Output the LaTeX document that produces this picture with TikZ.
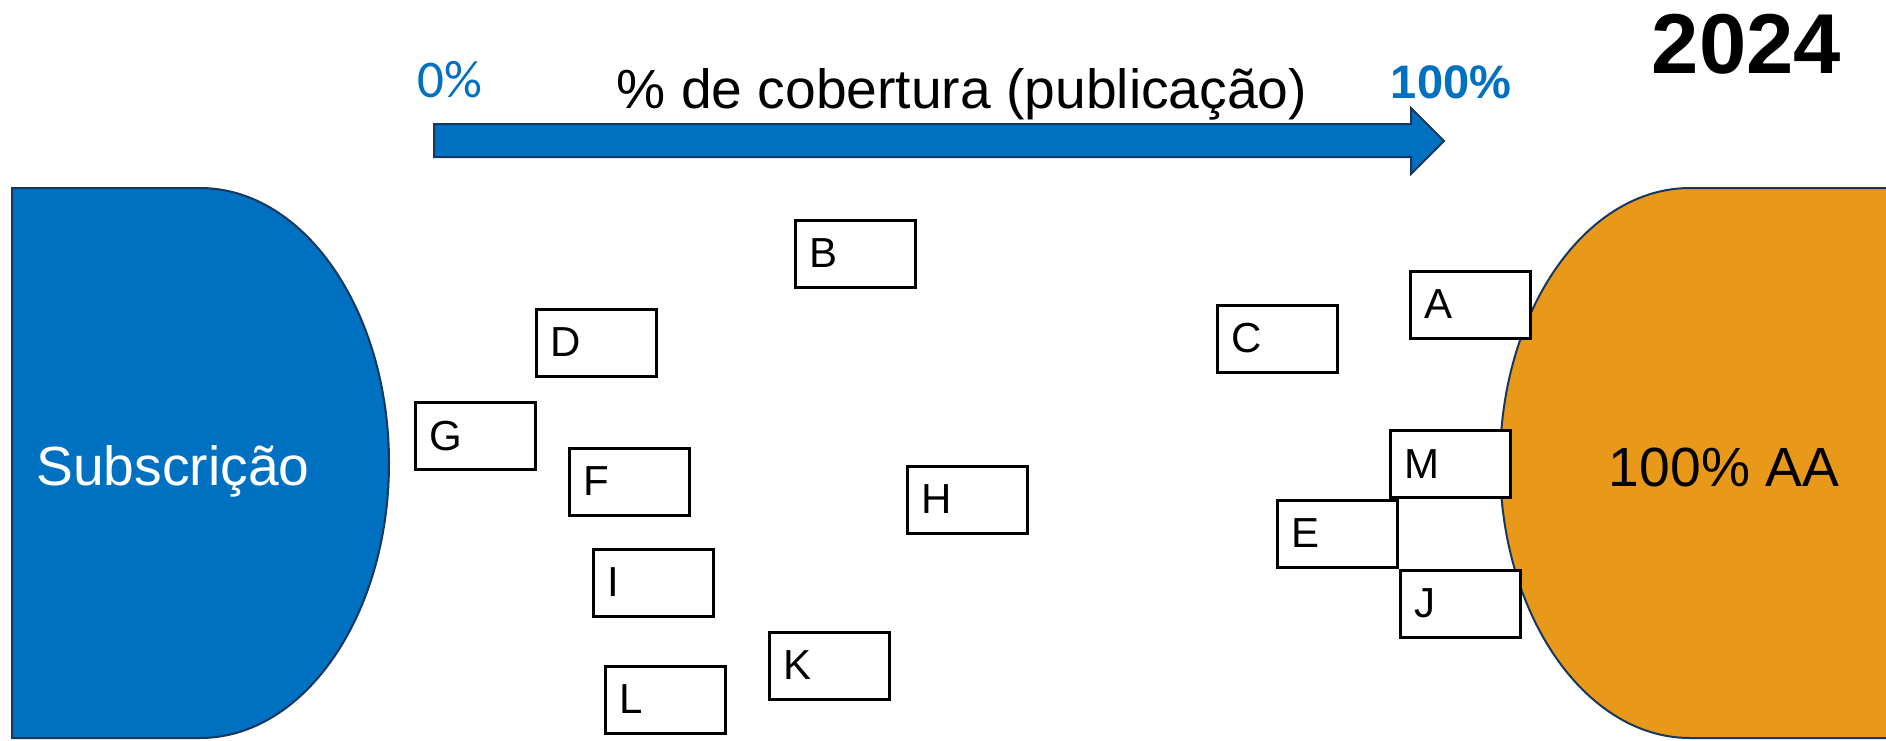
\documentclass[tikz,border=0pt]{standalone}
\usepackage{fontspec}
\setmainfont{Liberation Sans}
\newfontfamily\carl{Carlito}
\definecolor{pblue}{HTML}{0070C0}
\definecolor{navy}{HTML}{17375E}
\definecolor{porange}{HTML}{E8991A}
\tikzset{
  lbox/.style={draw=black, fill=white, line width=1.5pt, minimum width=60pt, minimum height=33.5pt, inner sep=0pt},
  ltxt/.style={anchor=west, inner sep=0pt, font=\fontsize{21}{25}\selectfont},
  shapeline/.style={draw=navy, line width=1pt},
  bigtxt/.style={anchor=base, inner sep=0pt, font=\fontsize{27.6}{32}\selectfont},
}
\begin{document}
\begin{tikzpicture}[x=0.5pt,y=-0.5pt]
\useasboundingbox (0,0) rectangle (1886,740);
\fill[white] (0,0) rectangle (1886,740);
% left blue shape
\path[fill=pblue, shapeline] (12,188) -- (200,188) .. controls (304.4,188) and (389,311.1) .. (389,463) .. controls (389,614.9) and (304.4,738) .. (200,738) -- (12,738) -- cycle;
% right orange shape
\fill[porange] (1890,188) -- (1690,188) .. controls (1585.6,188) and (1500,311.1) .. (1500,463) .. controls (1500,614.9) and (1585.6,738) .. (1690,738) -- (1890,738) -- cycle;
\draw[shapeline] (1890,188) -- (1690,188) .. controls (1585.6,188) and (1500,311.1) .. (1500,463) .. controls (1500,614.9) and (1585.6,738) .. (1690,738) -- (1890,738);
% arrow
\path[fill=pblue, shapeline] (434,124) -- (1411,124) -- (1411,108) -- (1444,141) -- (1411,174) -- (1411,157) -- (434,157) -- cycle;
% texts
\node[bigtxt, text=white] (subs) at (173,485) {Subscrição};
\node[bigtxt] (aa) at (1724,486) {100\% AA};
\node[bigtxt] (cob) at (962,108) {\% de cobertura (publicação)};
\node[anchor=base, inner sep=0pt, text=pblue, font=\carl\fontsize{26.5}{30}\selectfont] (zero) at (450,97) {0\%};
\node[anchor=base, inner sep=0pt, text=pblue, font=\bfseries\fontsize{23.5}{28}\selectfont] (hund) at (1451,98) {100\%};
\node[anchor=base, inner sep=0pt, font=\bfseries\fontsize{42.5}{48}\selectfont] (year) at (1746.5,73) {2024};
% boxes
\foreach \n/\x/\y in {B/855/253.5, D/596.5/342.5, G/475.5/436, F/629.5/481.5, I/653.5/582.5, L/665/699.5, K/829/665.5, H/967/499.5, C/1277/338.5, A/1470/304.5, M/1450.5/464, E/1337.5/533.5, J/1460.5/603.5}{
  \node[lbox] (\n) at (\x,\y) {};
  \node[ltxt] (\n-t) at ([xshift=7.75pt]\n.west) {\n};
}
\end{tikzpicture}
\end{document}
